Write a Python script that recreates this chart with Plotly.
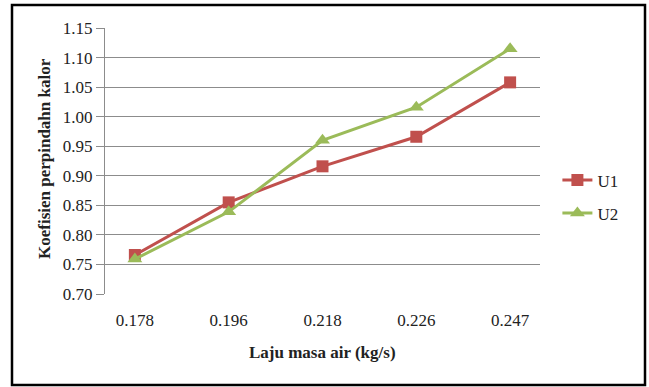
import plotly.graph_objects as go

# Water mass flow rate categories (kg/s)
laju_masa = ["0.178", "0.196", "0.218", "0.226", "0.247"]

# Heat transfer coefficient series
u1 = [0.766, 0.855, 0.916, 0.966, 1.058]
u2 = [0.759, 0.839, 0.960, 1.016, 1.115]

y_ticks = [0.70, 0.75, 0.80, 0.85, 0.90, 0.95, 1.00, 1.05, 1.10, 1.15]

RED = "#C0504D"
GREEN = "#9BBB59"
GRID = "#8C8C8C"
FONT = "Liberation Serif"
TXT = "#222222"

fig = go.Figure()
fig.add_trace(go.Scatter(
    x=laju_masa, y=u1, name="U1", mode="lines+markers", legendgroup="u1",
    line=dict(color=RED, width=3),
    marker=dict(symbol="square", size=12, color=RED),
))
fig.add_trace(go.Scatter(
    x=laju_masa, y=u2, name="U2", mode="lines+markers", legendgroup="u2",
    line=dict(color=GREEN, width=3),
    marker=dict(symbol="triangle-up", size=13, color=GREEN),
))

fig.update_layout(
    width=649, height=387,
    margin=dict(l=105, r=109, t=28, b=93),
    paper_bgcolor="white", plot_bgcolor="white",
    font=dict(family=FONT, size=16, color=TXT),
    showlegend=True,
    legend=dict(x=1.04, y=0.365, xanchor="left", yanchor="middle",
                font=dict(family=FONT, size=17, color=TXT),
                bgcolor="rgba(0,0,0,0)", itemwidth=30, tracegroupgap=8),
    xaxis=dict(
        type="category", showgrid=False, zeroline=False,
        showline=False, ticks="",
        tickfont=dict(family=FONT, size=17, color=TXT),
        ticklabelstandoff=14,
    ),
    yaxis=dict(
        range=[0.70, 1.15], tickvals=y_ticks,
        ticktext=[f"{v:.2f}" for v in y_ticks],
        showgrid=True, gridcolor=GRID, gridwidth=1,
        zeroline=False, showline=True, linecolor=GRID, linewidth=1,
        ticks="outside", ticklen=8, tickcolor=GRID,
        tickfont=dict(family=FONT, size=17, color=TXT),
    ),
    annotations=[
        dict(text="<b>Laju masa air (kg/s)</b>", xref="paper", yref="paper",
             x=0.5, y=(294 - 352) / 266, xanchor="center", yanchor="middle",
             showarrow=False,
             font=dict(family=FONT, size=17, color=TXT)),
        dict(text="<b>Koefisien perpindahn kalor</b>", xref="paper", yref="paper",
             x=(45 - 105) / 435, y=(294 - 159) / 266, xanchor="center", yanchor="middle",
             textangle=-90, showarrow=False,
             font=dict(family=FONT, size=17, color=TXT)),
    ],
    shapes=[
        dict(type="rect", xref="paper", yref="paper",
             x0=(12 - 105) / 435, x1=(645 - 105) / 435,
             y0=(294 - 385) / 266, y1=(294 - 5) / 266,
             line=dict(color="black", width=2.5), fillcolor="rgba(0,0,0,0)"),
    ],
)

fig.write_html("out.html")
